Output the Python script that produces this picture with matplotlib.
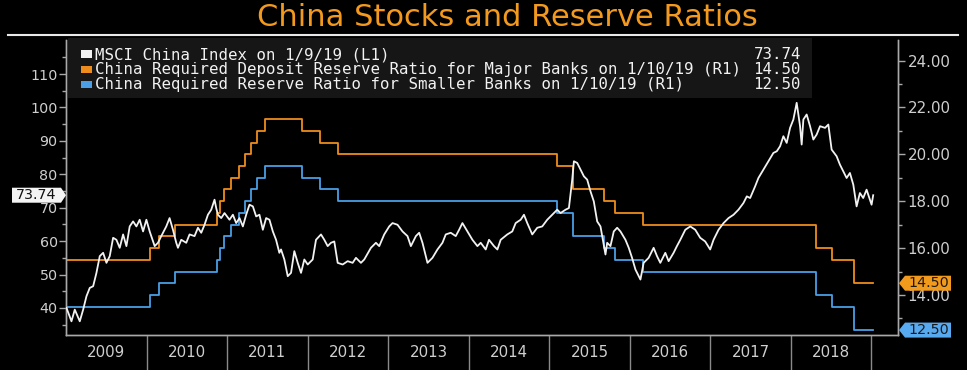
import matplotlib
matplotlib.use("Agg")
import matplotlib.pyplot as plt
from matplotlib.patches import Rectangle, Polygon
from matplotlib.ticker import FixedLocator, NullFormatter
from datetime import date

# ---------------- data ----------------
title = "China Stocks and Reserve Ratios"
legend_labels = [
    "MSCI China Index on 1/9/19 (L1)",
    "China Required Deposit Reserve Ratio for Major Banks on 1/10/19 (R1)",
    "China Required Reserve Ratio for Smaller Banks on 1/10/19 (R1)",
]
years = [2009, 2010, 2011, 2012, 2013, 2014, 2015, 2016, 2017, 2018]

msci_t = [
    2009.006, 2009.068, 2009.109, 2009.171, 2009.213, 2009.254, 2009.295, 2009.337, 2009.378, 2009.419,
    2009.461, 2009.502, 2009.543, 2009.585, 2009.626, 2009.667, 2009.709, 2009.750, 2009.791, 2009.833,
    2009.874, 2009.915, 2009.957, 2009.998, 2010.039, 2010.101, 2010.142, 2010.183, 2010.245, 2010.286,
    2010.328, 2010.369, 2010.390, 2010.431, 2010.493, 2010.534, 2010.596, 2010.638, 2010.679, 2010.720,
    2010.762, 2010.803, 2010.844, 2010.865, 2010.886, 2010.927, 2010.968, 2011.030, 2011.072, 2011.113,
    2011.154, 2011.196, 2011.237, 2011.278, 2011.320, 2011.361, 2011.402, 2011.444, 2011.485, 2011.526,
    2011.568, 2011.608, 2011.649, 2011.670, 2011.711, 2011.753, 2011.794, 2011.835, 2011.877, 2011.918,
    2011.959, 2012.001, 2012.063, 2012.104, 2012.166, 2012.207, 2012.249, 2012.290, 2012.331, 2012.373,
    2012.435, 2012.497, 2012.559, 2012.600,
    2012.662, 2012.703, 2012.786, 2012.848, 2012.889, 2012.951, 2013.013, 2013.054, 2013.116, 2013.178,
    2013.240, 2013.282, 2013.344, 2013.385, 2013.426, 2013.467, 2013.488, 2013.550, 2013.612, 2013.674,
    2013.715, 2013.777, 2013.839, 2013.881, 2013.922, 2013.984, 2014.046, 2014.108, 2014.149, 2014.211,
    2014.252, 2014.314, 2014.356, 2014.397, 2014.479, 2014.541, 2014.583, 2014.645, 2014.686, 2014.727,
    2014.789, 2014.851, 2014.913, 2014.975, 2015.037, 2015.099, 2015.140, 2015.202, 2015.244, 2015.285,
    2015.306, 2015.347, 2015.388, 2015.430, 2015.471, 2015.512, 2015.553, 2015.595, 2015.636, 2015.698,
    2015.719, 2015.760, 2015.801, 2015.843, 2015.884, 2015.946, 2015.987, 2016.028, 2016.070, 2016.132,
    2016.172, 2016.234, 2016.296, 2016.338, 2016.379, 2016.441, 2016.482, 2016.544, 2016.585, 2016.627,
    2016.689, 2016.751, 2016.813, 2016.874, 2016.936, 2016.998, 2017.040, 2017.102, 2017.164, 2017.226,
    2017.288, 2017.349, 2017.411, 2017.453, 2017.494, 2017.556, 2017.597, 2017.659, 2017.721, 2017.783,
    2017.825, 2017.866, 2017.907, 2017.948, 2017.990, 2018.031, 2018.072, 2018.114, 2018.134, 2018.155,
    2018.196, 2018.238, 2018.279, 2018.320, 2018.362, 2018.424, 2018.465, 2018.506, 2018.568, 2018.609,
    2018.651, 2018.692, 2018.733, 2018.775, 2018.816, 2018.857, 2018.898, 2018.940, 2018.981, 2019.002,
    2019.022,
]
msci_v = [
    40.0, 36.0, 39.5, 36.0, 39.5, 43.5, 46.0, 46.5, 50.5, 55.5,
    56.5, 53.5, 55.5, 61.0, 60.4, 58.0, 62.0, 58.5, 64.4, 65.9,
    64.4, 66.4, 62.9, 66.4, 62.9, 58.5, 59.5, 61.5, 64.4, 66.9,
    63.4, 59.5, 58.0, 60.4, 59.5, 62.0, 61.5, 64.0, 62.5, 64.9,
    67.9, 69.4, 72.4, 69.9, 67.9, 66.9, 68.4, 66.4, 67.9, 65.4,
    66.9, 64.4, 67.9, 70.9, 70.4, 67.4, 67.9, 63.4, 66.9, 66.4,
    62.9, 60.4, 56.5, 57.5, 54.5, 49.5, 50.5, 57.0, 53.5, 50.5,
    54.5, 53.0, 54.5, 60.4, 62.0, 60.4, 58.5, 59.5, 59.9, 53.5,
    53.0, 54.0, 53.5, 55.0,
    53.5, 54.5, 58.0, 59.5, 58.5, 62.0, 64.4, 65.4, 64.9, 62.9,
    61.5, 58.5, 61.5, 62.5, 59.5, 55.5, 53.5, 55.0, 57.5, 59.5,
    62.0, 62.5, 61.5, 63.4, 65.4, 62.9, 60.4, 58.5, 59.5, 57.5,
    60.4, 58.5, 57.5, 60.4, 62.0, 62.9, 65.4, 66.4, 67.9, 65.4,
    62.0, 64.0, 64.4, 66.4, 67.9, 69.4, 68.4, 69.4, 69.9, 78.4,
    83.9, 83.4, 81.4, 79.4, 78.4, 74.9, 71.9, 65.9, 64.4, 56.0,
    59.5, 58.5, 62.9, 64.0, 62.9, 60.4, 58.0, 55.0, 51.5, 48.5,
    53.5, 55.0, 58.0, 55.5, 53.5, 56.5, 54.0, 56.5, 58.5, 60.4,
    63.4, 64.4, 63.4, 61.0, 59.9, 57.5, 60.4, 63.4, 65.4, 66.9,
    67.9, 69.4, 71.4, 73.4, 72.9, 76.4, 78.9, 81.4, 83.9, 86.4,
    86.9, 88.4, 91.4, 89.4, 93.9, 96.4, 101.4, 94.4, 88.9, 96.4,
    97.9, 94.4, 90.4, 91.9, 94.4, 93.9, 94.9, 87.4, 85.4, 82.9,
    80.9, 78.9, 80.4, 76.9, 70.4, 74.4, 72.9, 75.4, 72.4, 70.9,
    73.74,
]

rrr_dates = [
    "2009-01-01", "2010-01-18", "2010-02-25", "2010-05-10", "2010-11-16", "2010-11-29",
    "2010-12-20", "2011-01-20", "2011-02-24", "2011-03-25", "2011-04-21", "2011-05-18",
    "2011-06-20", "2011-12-05", "2012-02-24", "2012-05-18", "2015-02-05", "2015-04-20",
    "2015-09-06", "2015-10-24", "2016-03-01", "2018-04-25", "2018-07-05", "2018-10-15",
    "2019-01-10",
]
major_rrr = [15.5, 16.0, 16.5, 17.0, 17.5, 18.0, 18.5, 19.0, 19.5, 20.0, 20.5, 21.0,
             21.5, 21.0, 20.5, 20.0, 19.5, 18.5, 18.0, 17.5, 17.0, 16.0, 15.5, 14.5, 14.5]
small_rrr = [13.5, 14.0, 14.5, 15.0, 15.5, 16.0, 16.5, 17.0, 17.5, 18.0, 18.5, 19.0,
             19.5, 19.0, 18.5, 18.0, 17.5, 16.5, 16.0, 15.5, 15.0, 14.0, 13.5, 12.5, 12.5]

left_ticks = [40, 50, 60, 70, 80, 90, 100, 110]
right_ticks = [14, 16, 18, 20, 22, 24]


def dec_year(s):
    y, m, d = map(int, s.split("-"))
    d0, d1 = date(y, 1, 1), date(y + 1, 1, 1)
    return y + (date(y, m, d) - d0).days / (d1 - d0).days


rrr_t = [dec_year(s) for s in rrr_dates]

# ---------------- style ----------------
BG = "#000000"
WHITE = "#f2f2f2"
ORANGE = "#ee8c1c"
BLUE = "#4a9fe6"
TITLE_C = "#f39a1e"
TICK_C = "#cfcfcf"
AX_C = "#a9a9a9"
MONO = "DejaVu Sans Mono"

W, H = 967, 370
fig = plt.figure(figsize=(W / 100, H / 100), dpi=100, facecolor=BG)

L, R, B, T = 66, 898, 335, 40
ax = fig.add_axes([L / W, 1 - B / H, (R - L) / W, (B - T) / H])
ax2 = ax.twinx()
ax.set_zorder(ax2.get_zorder() + 1)
ax.patch.set_visible(False)
ax2.set_facecolor(BG)

ax.plot(msci_t, msci_v, color=WHITE, lw=1.3, solid_joinstyle="round", zorder=5)
ax2.step(rrr_t, major_rrr, where="post", color=ORANGE, lw=1.3)
ax2.step(rrr_t, small_rrr, where="post", color=BLUE, lw=1.3)

ax.set_xlim(2009.0, 2019.33)
ax.set_ylim(31.9, 120.2)
ax2.set_ylim(12.29, 24.88)

for a in (ax, ax2):
    for s in a.spines.values():
        s.set_color(AX_C)
        s.set_linewidth(1.0)
    a.spines["top"].set_visible(False)

# left axis
ax.set_yticks(left_ticks)
ax.yaxis.set_minor_locator(FixedLocator([v + 5 for v in [30] + left_ticks]))
ax.tick_params(axis="y", which="major", direction="out", length=5, width=1,
               color=AX_C, labelcolor=TICK_C, labelsize=10.3, pad=1)
ax.tick_params(axis="y", which="minor", direction="out", length=3, width=1, color=AX_C)

# right axis
ax2.set_yticks(right_ticks)
ax2.set_yticklabels([f"{v:.2f}" for v in right_ticks])
ax2.yaxis.set_minor_locator(FixedLocator([v + 1 for v in [12] + right_ticks]))
ax2.tick_params(axis="y", which="major", direction="out", length=5, width=1,
                color=AX_C, labelcolor=TICK_C, labelsize=10.8, pad=2)
ax2.tick_params(axis="y", which="minor", direction="out", length=3, width=1, color=AX_C)

# x axis: separators at year boundaries, labels centred in each year
ax.set_xticks([y + 1 for y in years])
ax.xaxis.set_major_formatter(NullFormatter())
ax.set_xticks([y + 0.5 for y in years], minor=True)
ax.set_xticklabels([str(y) for y in years], minor=True)
ax.tick_params(axis="x", which="major", direction="out", length=27, width=1, color="#8a8a8a")
ax.tick_params(axis="x", which="minor", length=0, labelcolor=TICK_C, labelsize=10.8, pad=7)
ax2.tick_params(axis="x", which="both", length=0)

# title + rule
fig.text(507 / W, 1 - 17 / H, title, color=TITLE_C, fontsize=22, ha="center", va="center")
fig.add_artist(plt.Line2D([8 / W, 958 / W], [1 - 35 / H, 1 - 35 / H], color="#e8e8e8", lw=1.5))

# legend box
fig.add_artist(Rectangle((68 / W, 1 - 98 / H), (812 - 68) / W, (98 - 38) / H,
                         facecolor="#161616", edgecolor="none", zorder=10))
leg_vals = [f"{msci_v[-1]:.2f}", f"{major_rrr[-1]:.2f}", f"{small_rrr[-1]:.2f}"]
leg_cols = [WHITE, ORANGE, BLUE]
for i, (lab, val, c) in enumerate(zip(legend_labels, leg_vals, leg_cols)):
    yc = 54.5 + 15 * i
    fig.add_artist(Rectangle((81 / W, 1 - (yc + 3.5) / H), 11 / W, 7.5 / H,
                             facecolor=c, edgecolor="none", zorder=11))
    fig.text(95 / W, 1 - yc / H, lab, color=WHITE, fontsize=11.3, family=MONO,
             ha="left", va="center", zorder=12)
    fig.text(801 / W, 1 - yc / H, val, color=WHITE, fontsize=11.3, family=MONO,
             ha="right", va="center", zorder=12)

# value tags on axes
fig.canvas.draw()


def tag(axis, yval, side, face, text, tcolor):
    _, py = axis.transData.transform((2010, yval))
    h = 7.5
    if side == "left":
        x0, x1, tip = 12, 61, 66
        pts = [(x0, py - h), (x1, py - h), (tip, py), (x1, py + h), (x0, py + h)]
        cx = (x0 + x1) / 2
    else:
        x0, x1, tip = 905, 951, 899
        pts = [(x0, py - h), (x1, py - h), (x1, py + h), (x0, py + h), (tip, py)]
        cx = (x0 + x1) / 2 + 1
    fig.add_artist(Polygon(pts, closed=True, facecolor=face, edgecolor="none",
                           transform=None, zorder=20))
    fig.text(cx / W, py / H, text, color=tcolor, fontsize=10.3, ha="center", va="center", zorder=21)


tag(ax, msci_v[-1], "left", "#f4f4f4", f"{msci_v[-1]:.2f}", "#111111")
tag(ax2, major_rrr[-1], "right", "#f29a1c", f"{major_rrr[-1]:.2f}", "#1a1a1a")
tag(ax2, small_rrr[-1], "right", "#58aaf0", f"{small_rrr[-1]:.2f}", "#1a1a1a")

fig.savefig("out.png", dpi=100, facecolor=BG)
